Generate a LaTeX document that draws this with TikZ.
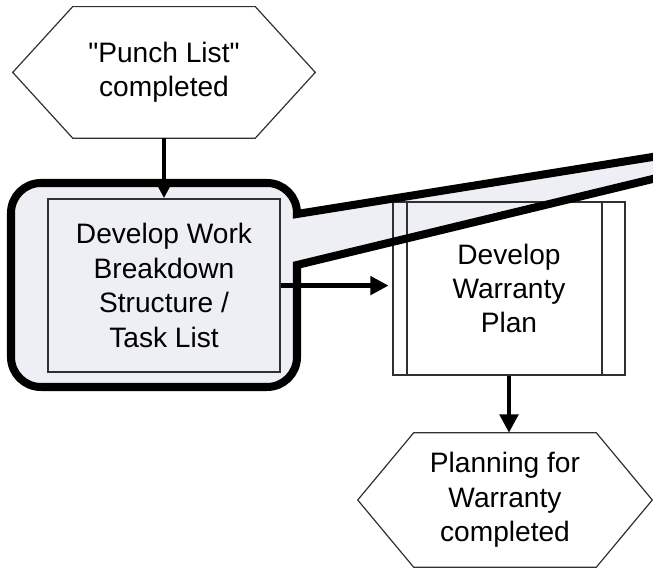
\documentclass[tikz,border=0pt]{standalone}
\usepackage{fontspec}
\setmainfont{Liberation Sans}
\usepackage{tikz}
\usetikzlibrary{arrows.meta}

\definecolor{calloutgray}{HTML}{EEEFF4}
\definecolor{linegray}{HTML}{303030}

\tikzset{
  flowtext/.style={align=center, font=\fontsize{20}{24.5}\selectfont, inner sep=0pt},
  hexnode/.style={flowtext, minimum width=4.55cm},
  taskbox/.style={flowtext, draw=linegray, line width=1.3pt, minimum width=5.8cm, minimum height=4.33cm},
  hexline/.style={draw=linegray, line width=0.85pt},
  flowarrow/.style={line width=3pt, ->},
  calloutline/.style={line width=5.7pt, line join=miter},
}

\begin{document}
\begin{tikzpicture}[>={Triangle[length=13pt,width=13pt]}]
    \useasboundingbox (0, 0) rectangle (16.325, 14.2);
    \clip (0, 0) rectangle (16.325, 14.2);

    % callout corners
    \coordinate (cb) at (7.425, 7.575);
    \coordinate (ct) at (7.425, 8.85);
    \coordinate (ctr) at (17, 10.385);
    \coordinate (cbr) at (17, 9.89);

    \fill[calloutgray] (cb) [rounded corners=0.75cm] -- (7.425, 4.525) -- (0.275, 4.525)
      -- (0.275, 9.625) -- (7.425, 9.625) [sharp corners] -- (ct) -- (ctr) -- (cbr) -- cycle;

    \node[hexnode, minimum height=3.275cm] (punch) at (4.1, 12.39) {\textquotedbl Punch List\textquotedbl\\completed};
    \node[taskbox] (wbs) at (4.1, 7.06) {Develop Work\\Breakdown\\Structure /\\Task List};
    \node[taskbox, minimum height=4.325cm] (plan) at (12.725, 6.99) {Develop\\Warranty\\Plan};
    \node[hexnode, minimum height=3.35cm] (done) at (12.625, 1.7) {Planning for\\Warranty\\completed};

    \foreach \n/\ext in {punch/1.5, done/1.4} {
      \draw[hexline] (\n.north west) -- (\n.north east) -- ([xshift=\ext cm]\n.east)
        -- (\n.south east) -- (\n.south west) -- ([xshift=-\ext cm]\n.west) -- cycle;
    }
    \draw[draw=linegray, line width=1.3pt] ([xshift=0.375cm]plan.north west) -- ([xshift=0.375cm]plan.south west);
    \draw[draw=linegray, line width=1.3pt] ([xshift=-0.6cm]plan.north east) -- ([xshift=-0.6cm]plan.south east);

    \draw[calloutline] (cbr) -- (cb) [rounded corners=0.75cm] -- (7.425, 4.525) -- (0.275, 4.525)
      -- (0.275, 9.625) -- (7.425, 9.625) [sharp corners] -- (ct) -- (ctr);

    \draw[flowarrow] (punch.south) -- (wbs.north);
    \draw[flowarrow, shorten >=2.5pt] (wbs.east) -- (wbs.east -| plan.west);
    \draw[flowarrow] (plan.south) -- (plan.south |- done.north);
\end{tikzpicture}
\end{document}
